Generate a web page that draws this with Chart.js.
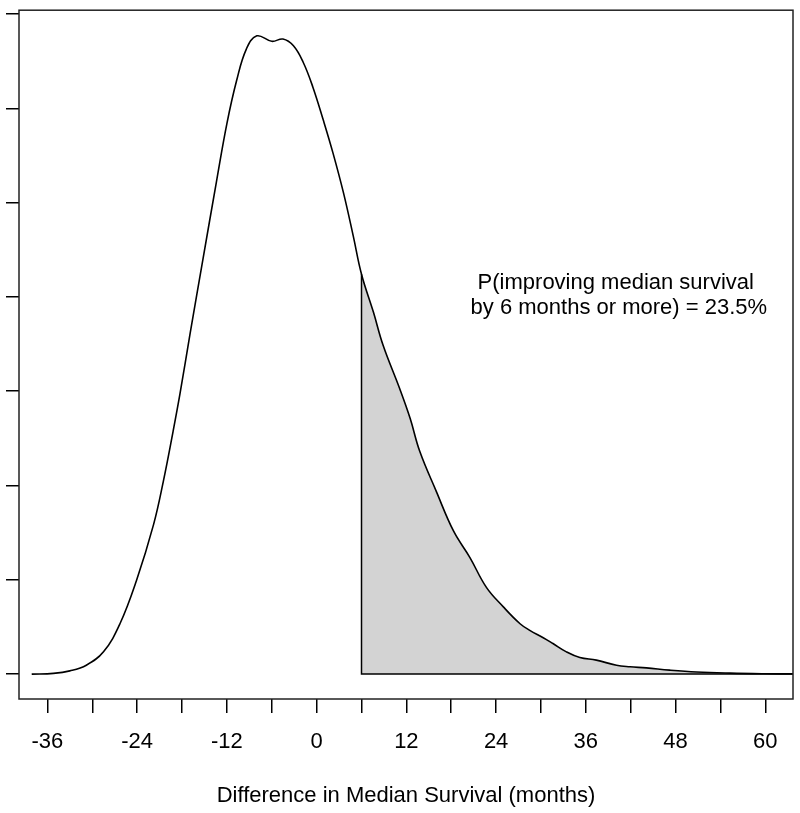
<!DOCTYPE html>
<html>
<head>
<meta charset="utf-8">
<script src="https://cdn.jsdelivr.net/npm/chart.js@4.4.1/dist/chart.umd.min.js"></script>
<style>
  body { margin: 0; background: #fff; }
  #wrap { width: 800px; height: 813px; }
</style>
</head>
<body>
<div id="wrap"><canvas id="densityChart" width="800" height="813"></canvas></div>
<script>
// posterior density of the difference in median survival (months)
const survivalDiff = [-38.1, -35.2, -33.0, -30.8, -28.5, -26.3, -24.1, -21.8, -20.5, -19.2,
    -18.3, -16.9, -15.2, -13.4, -12.0, -10.7, -9.4, -8.0, -6.0, -4.5,
    -3.1, -1.8, -0.5, 0.9, 2.2, 3.6, 4.9, 6.0, 7.6, 8.9,
    11.1, 12.5, 13.8, 16.0, 18.3, 20.5, 22.7, 25.0, 27.2, 28.5,
    30.3, 31.6, 33.4, 35.2, 37.4, 40.1, 41.9, 44.1, 47.2, 50.8,
    55.3, 59.7, 63.7];
const density = [0, 0.00004, 0.00017, 0.00047, 0.00118, 0.00267, 0.00495, 0.00794, 0.01022, 0.01286,
    0.01480, 0.01810, 0.02200, 0.02610, 0.02919, 0.03147, 0.03314, 0.03384, 0.03355, 0.03367,
    0.03331, 0.03244, 0.03112, 0.02936, 0.02761, 0.02550, 0.02322, 0.02120, 0.01918, 0.01742,
    0.01514, 0.01356, 0.01180, 0.00969, 0.00759, 0.00618, 0.00460, 0.00355, 0.00267, 0.00232,
    0.00193, 0.00162, 0.00118, 0.00088, 0.00074, 0.00047, 0.00039, 0.00033, 0.00021, 0.00011,
    0.00005, 0.00002, 0.00001];

const xTickValues = [-36, -30, -24, -18, -12, -6, 0, 6, 12, 18, 24, 30, 36, 42, 48, 54, 60];
const xTickLabels = ['-36', '', '-24', '', '-12', '', '0', '', '12', '', '24', '', '36', '', '48', '', '60'];
const yTickValues = [0, 0.005, 0.01, 0.015, 0.02, 0.025, 0.03, 0.035];

const cutoff = 6;
const noteLines = ['P(improving median survival', ' by 6 months or more) = 23.5%'];
const axisTitle = 'Difference in Median Survival (months)';

const font = { family: '"Liberation Sans", Arial, Helvetica, sans-serif', size: 22 };

const curve = survivalDiff.map((x, i) => ({ x: x, y: density[i] }));
const tail = curve.filter(p => p.x >= cutoff);
const cutY = tail[0].y;

// box around the plot region and the probability note
const framePlugin = {
    id: 'frame',
    afterDatasetsDraw(chart) {
        const { ctx, chartArea: a, scales } = chart;
        ctx.save();
        ctx.strokeStyle = '#222';
        ctx.lineWidth = 1.5;
        ctx.strokeRect(a.left, a.top, a.right - a.left, a.bottom - a.top);

        ctx.fillStyle = '#000';
        ctx.font = font.size + 'px ' + font.family;
        ctx.textAlign = 'center';
        ctx.textBaseline = 'alphabetic';
        const cx = scales.x.getPixelForValue(40);
        const y1 = scales.y.getPixelForValue(0.0204);
        ctx.fillText(noteLines[0], cx, y1);
        ctx.fillText(noteLines[1], cx, y1 + 25);
        ctx.restore();
    }
};

new Chart(document.getElementById('densityChart').getContext('2d'), {
    type: 'line',
    data: {
        datasets: [
            {
                data: curve,
                borderColor: '#000',
                borderWidth: 1.6,
                pointRadius: 0,
                tension: 0.4,
                fill: false,
                order: 1
            },
            {
                data: tail,
                borderColor: 'rgba(0,0,0,0)',
                borderWidth: 0,
                backgroundColor: '#d3d3d3',
                pointRadius: 0,
                tension: 0.4,
                fill: 'origin',
                order: 3
            },
            {
                data: [{ x: cutoff, y: cutY }, { x: cutoff, y: 0 }, { x: 70, y: 0 }],
                borderColor: '#000',
                borderWidth: 1.5,
                pointRadius: 0,
                tension: 0,
                fill: false,
                order: 2
            }
        ]
    },
    options: {
        responsive: false,
        animation: false,
        layout: { padding: { top: 6, right: 7, left: 0, bottom: 0 } },
        plugins: {
            legend: { display: false },
            tooltip: { enabled: false }
        },
        scales: {
            x: {
                type: 'linear',
                min: -39.8,
                max: 63.7,
                afterBuildTicks: s => { s.ticks = xTickValues.map(v => ({ value: v })); },
                afterFit: s => { s.height = 114; },
                border: { display: false },
                grid: { drawOnChartArea: false, drawTicks: true, tickLength: 14, color: '#000', lineWidth: 1.5 },
                ticks: {
                    autoSkip: false,
                    maxRotation: 0,
                    padding: 16,
                    color: '#000',
                    font: font,
                    callback: (v, i) => xTickLabels[i]
                },
                title: {
                    display: true,
                    text: axisTitle,
                    color: '#000',
                    font: font,
                    padding: { top: 0, bottom: 4 }
                }
            },
            y: {
                type: 'linear',
                min: -0.00132,
                max: 0.0352,
                afterBuildTicks: s => { s.ticks = yTickValues.map(v => ({ value: v })); },
                afterFit: s => { s.width = 19; },
                border: { display: false },
                grid: { drawOnChartArea: false, drawTicks: true, tickLength: 13, color: '#000', lineWidth: 1.5 },
                ticks: { callback: () => '' }
            }
        }
    },
    plugins: [framePlugin]
});
</script>
</body>
</html>
